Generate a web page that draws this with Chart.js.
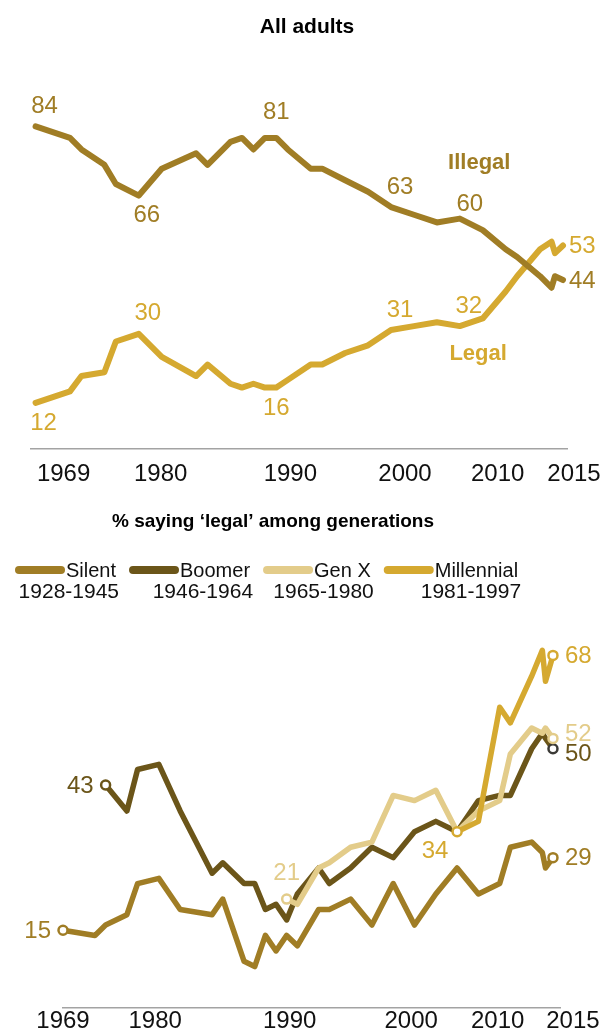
<!DOCTYPE html>
<html>
<head>
<meta charset="utf-8">
<script src="https://cdn.jsdelivr.net/npm/chart.js@4.4.1/dist/chart.umd.min.js"></script>
<style>
  html, body { margin: 0; padding: 0; background: #fff; }
  body { width: 603px; height: 1032px; position: relative; overflow: hidden; }
  canvas { position: absolute; left: 0; }
  #adultsChart { top: 0; }
  #genChart { top: 495px; }
</style>
</head>
<body>
<canvas id="adultsChart" width="603" height="490"></canvas>
<canvas id="genChart" width="603" height="537"></canvas>
<script>
// survey years (2014 has two readings)
const years = [1969, 1972, 1973, 1975, 1976, 1978, 1980, 1983, 1984, 1986, 1987, 1988, 1989, 1990, 1991,
  1993, 1994, 1996, 1998, 2000, 2002, 2004, 2006, 2008, 2010, 2011, 2013, 2014, 2014.3, 2015];

// all adults
const illegal = [84, 81, 78, 74, 69, 66, 73, 77, 74, 80, 81, 78, 81, 81, 78,
  73, 73, 70, 67, 63, 61, 59, 60, 57, 52, 50, 45, 42, 45, 44];
const legal = [12, 15, 19, 20, 28, 30, 24, 19, 22, 17, 16, 17, 16, 16, 18,
  22, 22, 25, 27, 31, 32, 33, 32, 34, 41, 45, 52, 54, 51, 53];

// % legal by generation
const silent = [15, 14, 16, 18, 24, 25, 19, 18, 21, 9, 8, 14, 11, 14, 12,
  19, 19, 21, 16, 24, 16, 22, 27, 22, 24, 31, 32, 30, 27, 29];
const boomer = [null, null, 43, 38, 46, 47, 38, 26, 28, 24, 24, 19, 20, 17, 22,
  27, 24, 27, 31, 29, 34, 36, 34, 40, 41, 41, 50, 53, 52, 50];
const genX = [null, null, null, null, null, null, null, null, null, null, null, null, null, 21, 20,
  27, 28, 31, 32, 41, 40, 42, 34, 38, 40, 49, 54, 53, 54, 52];
const millennial = [null, null, null, null, null, null, null, null, null, null, null, null, null, null, null,
  null, null, null, null, null, null, null, 34, 36, 58, 55, 64, 69, 63, 68];

const genNames = ['Silent', 'Boomer', 'Gen X', 'Millennial'];
const genSpans = ['1928-1945', '1946-1964', '1965-1980', '1981-1997'];
const xTicks = [1969, 1980, 1990, 2000, 2010, 2015];

const FONT = '"Liberation Sans", Arial, sans-serif';
const OLIVE = '#a07d25';
const GOLD = '#d5a930';
const BROWN = '#6b5519';
const PALE = '#e3cc8a';

function pts(arr) {
  return years.map((x, i) => ({ x: x, y: arr[i] }));
}

// where a value label sits next to its point: [dx, dy, align]
const offsets = {
  above: [9, -20, 'center'],
  aboveNear: [10, -14, 'center'],
  below: [8, 20, 'center'],
  over: [0, -26, 'center'],
  under: [0, 21, 'center'],
  right: [0, 1, 'left'],
  rightUp: [0, -4, 'left'],
  rightDown: [0, 6, 'left'],
  left: [0, 1, 'right'],
  belowLeft: [-22, 20, 'center']
};

const valueLabels = {
  id: 'valueLabels',
  afterDatasetsDraw(chart, args, opts) {
    const ctx = chart.ctx;
    const xs = chart.scales.x, ys = chart.scales.y;
    ctx.save();
    ctx.textBaseline = 'middle';
    chart.data.datasets.forEach(ds => {
      ctx.font = '24px ' + FONT;
      (ds.marks || []).forEach(m => {
        const i = years.indexOf(m[0]);
        const v = ds.data[i].y;
        const o = offsets[m[1]];
        let dx = o[0];
        if (o[2] == 'left') dx = opts.gap;
        if (o[2] == 'right') dx = -opts.gap;
        ctx.fillStyle = ds.borderColor;
        ctx.textAlign = o[2];
        ctx.fillText(String(v), xs.getPixelForValue(m[0]) + dx, ys.getPixelForValue(v) + o[1]);
      });
      if (ds.note) {
        ctx.font = 'bold 22px ' + FONT;
        ctx.textAlign = 'center';
        ctx.fillStyle = ds.borderColor;
        ctx.fillText(ds.label, xs.getPixelForValue(ds.note[0]), ys.getPixelForValue(ds.note[1]));
      }
    });
    ctx.restore();
  }
};

// year labels under the axis, nudged off their ticks like the original
const yearLabels = {
  id: 'yearLabels',
  afterDraw(chart, args, opts) {
    const ctx = chart.ctx;
    const xs = chart.scales.x;
    ctx.save();
    ctx.font = '24px ' + FONT;
    ctx.fillStyle = '#111';
    ctx.textAlign = 'center';
    ctx.textBaseline = 'middle';
    xTicks.forEach((v, i) => {
      ctx.fillText(String(v), xs.getPixelForValue(v) + opts.nudge[i], xs.top + opts.dy);
    });
    ctx.restore();
  }
};

const heading = {
  id: 'heading',
  afterDraw(chart, args, opts) {
    const ctx = chart.ctx;
    ctx.save();
    ctx.font = 'bold ' + opts.size + 'px ' + FONT;
    ctx.fillStyle = '#000';
    ctx.textAlign = 'center';
    ctx.textBaseline = 'middle';
    ctx.fillText(opts.text, opts.x, 27);
    ctx.restore();
  }
};

const genLegend = {
  id: 'genLegend',
  afterDraw(chart, args, opts) {
    const ctx = chart.ctx;
    ctx.save();
    ctx.textBaseline = 'middle';
    let x = opts.left;
    chart.data.datasets.forEach((ds, i) => {
      ctx.strokeStyle = ds.borderColor;
      ctx.lineWidth = 8;
      ctx.lineCap = 'round';
      ctx.beginPath();
      ctx.moveTo(x + 4, opts.y);
      ctx.lineTo(x + 46, opts.y);
      ctx.stroke();
      ctx.fillStyle = '#111';
      ctx.textAlign = 'left';
      ctx.font = '20px ' + FONT;
      ctx.fillText(genNames[i], x + 51, opts.y + 1);
      const right = x + 51 + ctx.measureText(genNames[i]).width;
      ctx.textAlign = 'right';
      ctx.font = '21px ' + FONT;
      ctx.fillText(genSpans[i], right + 3, opts.y2);
      x = right + 13;
    });
    ctx.restore();
  }
};

function xAxis(min, max, h) {
  return {
    type: 'linear', min: min, max: max,
    grid: { display: false, drawTicks: false },
    border: { display: true, color: '#a3a3a3', width: 1.5 },
    afterBuildTicks: s => { s.ticks = xTicks.map(v => ({ value: v })); },
    afterFit: s => { s.height = h; },
    ticks: { display: false }
  };
}

const lineBase = {
  fill: false, tension: 0, clip: false,
  borderJoinStyle: 'round', borderCapStyle: 'round'
};

new Chart(document.getElementById('adultsChart'), {
  type: 'line',
  data: {
    datasets: [
      Object.assign({}, lineBase, {
        label: 'Illegal', data: pts(illegal), borderColor: OLIVE, borderWidth: 6, pointRadius: 0,
        marks: [[1969, 'above'], [1978, 'below'], [1990, 'over'], [2000, 'above'], [2006, 'aboveNear'], [2015, 'right']],
        note: [2007.7, 74.5]
      }),
      Object.assign({}, lineBase, {
        label: 'Legal', data: pts(legal), borderColor: GOLD, borderWidth: 6, pointRadius: 0,
        marks: [[1969, 'below'], [1978, 'above'], [1990, 'under'], [2000, 'above'], [2006, 'above'], [2015, 'right']],
        note: [2007.6, 24.7]
      })
    ]
  },
  options: {
    responsive: false, animation: false, events: [],
    layout: { padding: { left: 31, right: 36, top: 103.4, bottom: 0 } },
    scales: {
      x: xAxis(1968.6, 2015.35, 41),
      y: { display: false, min: 0, max: 90 }
    },
    plugins: {
      legend: { display: false }, tooltip: { enabled: false }, title: { display: false },
      heading: { text: 'All adults', x: 307, size: 21 },
      valueLabels: { gap: 6 },
      yearLabels: { dy: 25, nudge: [28, -1, 14, 14, -8, 11] }
    }
  },
  plugins: [valueLabels, yearLabels, heading]
});

function endRadius(arr) {
  const first = arr.findIndex(v => v !== null);
  const last = arr.length - 1;
  return ctx => (ctx.dataIndex === first || ctx.dataIndex === last) ? 4.5 : 0;
}

function genSet(label, arr, color, order, marks, endColor) {
  return Object.assign({}, lineBase, {
    label: label, data: pts(arr), borderColor: color, borderWidth: 5.5, order: order,
    pointRadius: endRadius(arr), pointBackgroundColor: '#fff', pointBorderWidth: 2.5,
    pointBorderColor: ctx => (endColor && ctx.dataIndex === arr.length - 1) ? endColor : color,
    marks: marks
  });
}

new Chart(document.getElementById('genChart'), {
  type: 'line',
  data: {
    datasets: [
      genSet(genNames[0], silent, OLIVE, 3, [[1969, 'left'], [2015, 'right']]),
      genSet(genNames[1], boomer, BROWN, 2, [[1973, 'left'], [2015, 'rightDown']], '#3b3a36'),
      genSet(genNames[2], genX, PALE, 1, [[1990, 'over'], [2015, 'rightUp']]),
      genSet(genNames[3], millennial, GOLD, 0, [[2006, 'belowLeft'], [2015, 'right']])
    ]
  },
  options: {
    responsive: false, animation: false, events: [],
    layout: { padding: { left: 63, right: 43, top: 139.7, bottom: 0 } },
    scales: {
      x: xAxis(1969, 2015.66, 24),
      y: { display: false, min: 0, max: 72 }
    },
    plugins: {
      legend: { display: false }, tooltip: { enabled: false }, title: { display: false },
      heading: { text: '% saying \u2018legal\u2019 among generations', x: 273, size: 19 },
      valueLabels: { gap: 12 },
      yearLabels: { dy: 13, nudge: [0, -25, 3, 18, -2, 20] },
      genLegend: { left: 15, y: 75, y2: 97 }
    }
  },
  plugins: [valueLabels, yearLabels, heading, genLegend]
});
</script>
</body>
</html>
